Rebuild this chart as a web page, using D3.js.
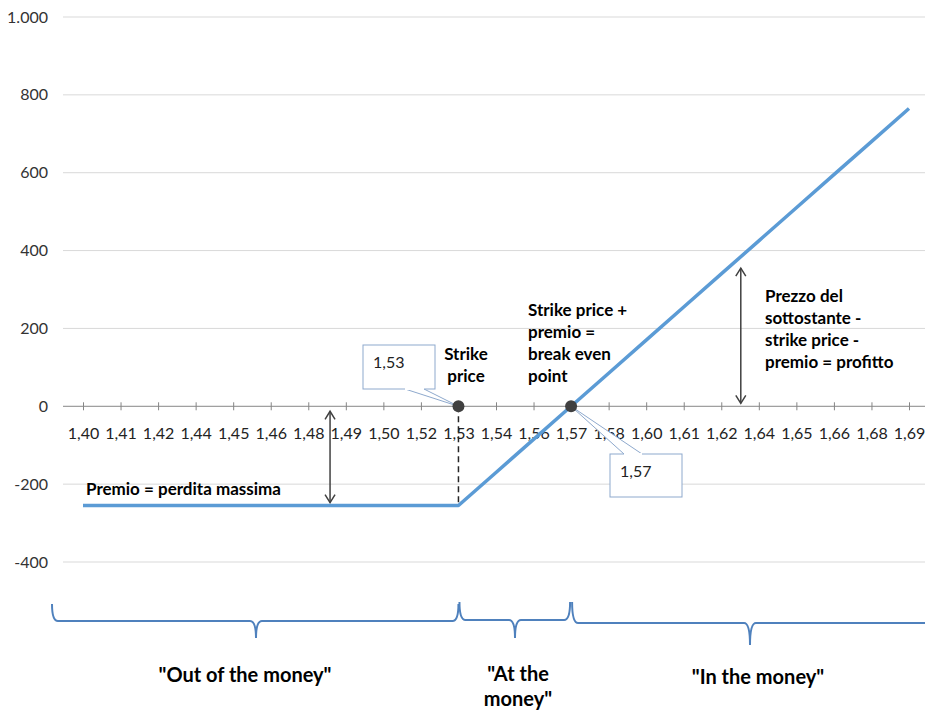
<!DOCTYPE html>
<html>
<head>
<meta charset="utf-8">
<script src="https://cdn.jsdelivr.net/npm/d3@7"></script>
<style>
  body { margin: 0; background: #fff; }
  svg text { font-family: Lato, "Liberation Sans", sans-serif; }
</style>
</head>
<body>
<div id="chart"></div>
<script>
// === Chart data ===
const categories = ["1,40", "1,41", "1,42", "1,44", "1,45", "1,46", "1,48", "1,49", "1,50", "1,52",
    "1,53", "1,54", "1,56", "1,57", "1,58", "1,60", "1,61", "1,62", "1,64", "1,65", "1,66", "1,68", "1,69"];
const profit = [-255, -255, -255, -255, -255, -255, -255, -255, -255, -255,
    -255, -170, -85, 0, 85, 170, 255, 340, 425, 510, 595, 680, 765];
const yTicks = [-400, -200, 0, 200, 400, 600, 800, 1000];
const zoneLabels = [["\"Out of the money\""], ["\"At the", "money\""], ["\"In the money\""]];

const COLOR_LINE = "#5b9bd5";   // payoff line
const COLOR_BRACE = "#4f81bd";  // bottom braces
const COLOR_DARK = "#404040";   // arrows and points

const W = 925, H = 712;
const svg = d3.select("#chart").append("svg")
    .attr("width", W)
    .attr("height", H);

// Scales: categories sit on the tick marks
const x = d3.scalePoint()
    .domain(categories)
    .range([83, 909]);

const y = d3.scaleLinear()
    .domain([-400, 1000])
    .range([562, 17]);

// Italian style: dot as thousands separator, plain hyphen for minus
const fmt = v => d3.format(",")(v).replace(/,/g, ".").replace("\u2212", "-");

// Horizontal gridlines
svg.append("g")
    .selectAll("line")
    .data(yTicks.filter(v => v !== 0))
    .join("line")
    .attr("x1", 63).attr("x2", W)
    .attr("y1", d => y(d)).attr("y2", d => y(d))
    .attr("stroke", "#d9d9d9")
    .attr("stroke-width", 1);

// Y axis labels (no axis line)
const yAxis = svg.append("g")
    .attr("transform", "translate(48,0)")
    .call(d3.axisLeft(y).tickValues(yTicks).tickSize(0).tickPadding(0).tickFormat(fmt));
yAxis.select(".domain").remove();
yAxis.selectAll("text")
    .attr("font-size", 16)
    .attr("font-family", "Lato, sans-serif")
    .attr("fill", "#333");

// X axis through zero with cross ticks
const xAxis = svg.append("g")
    .attr("transform", `translate(0,${y(0)})`)
    .call(d3.axisBottom(x).tickSizeOuter(0).tickSizeInner(4).tickPadding(0));
xAxis.select(".domain")
    .attr("d", `M63,0H${W}`)
    .attr("stroke", "#868686");
xAxis.selectAll(".tick line")
    .attr("y1", -4).attr("y2", 4)
    .attr("stroke", "#868686");
xAxis.selectAll(".tick text")
    .attr("y", 33)
    .attr("dy", 0)
    .attr("font-size", 16)
    .attr("font-family", "Lato, sans-serif")
    .attr("fill", "#222");

// Dashed drop line at the strike price
svg.append("line")
    .attr("x1", x("1,53")).attr("x2", x("1,53"))
    .attr("y1", y(0)).attr("y2", y(-255))
    .attr("stroke", "#262626")
    .attr("stroke-width", 1.5)
    .attr("stroke-dasharray", "6,4");

// Payoff line
const line = d3.line()
    .x((d, i) => x(categories[i]))
    .y(d => y(d));

svg.append("path")
    .datum(profit)
    .attr("fill", "none")
    .attr("stroke", COLOR_LINE)
    .attr("stroke-width", 3.5)
    .attr("stroke-linejoin", "round")
    .attr("d", line);

// Double-headed arrows
function doubleArrow(px, y1, y2) {
    const g = svg.append("g")
        .attr("stroke", COLOR_DARK)
        .attr("stroke-width", 1.5)
        .attr("fill", "none");
    g.append("line").attr("x1", px).attr("x2", px).attr("y1", y1).attr("y2", y2);
    g.append("path").attr("d", `M${px - 5},${y1 + 8}L${px},${y1}L${px + 5},${y1 + 8}`);
    g.append("path").attr("d", `M${px - 5},${y2 - 8}L${px},${y2}L${px + 5},${y2 - 8}`);
}
const step = x.step();
doubleArrow(x("1,48") + step * 0.58, y(0) + 5, y(-255) - 3);
doubleArrow(x("1,62") + step * 0.52, y(355), y(0) - 3);

// Callout boxes
function callout(bx, by, bw, bh, p1, p2, tx, ty, label) {
    const g = svg.append("g");
    g.append("path")
        .attr("d", `M${p1[0]},${p1[1]}L${tx},${ty}L${p2[0]},${p2[1]}`)
        .attr("fill", "#fff")
        .attr("stroke", "#8ea9cd")
        .attr("stroke-width", 1);
    g.append("rect")
        .attr("x", bx).attr("y", by).attr("width", bw).attr("height", bh)
        .attr("fill", "#fff")
        .attr("stroke", "#8ea9cd")
        .attr("stroke-width", 1);
    // cover the box edge where the pointer meets it
    g.append("line")
        .attr("x1", p1[0]).attr("x2", p2[0])
        .attr("y1", p1[1]).attr("y2", p2[1])
        .attr("stroke", "#fff").attr("stroke-width", 2);
    g.append("text")
        .attr("x", bx + 10).attr("y", by + 23)
        .attr("font-size", 16)
        .attr("fill", "#222")
        .text(label);
}
const sx = x("1,53"), bx = x("1,57");
callout(363, 345, 72, 44, [405, 389], [424, 389], sx, y(0), "1,53");
callout(610, 454, 72, 43, [624, 454], [642, 454], bx, y(0), "1,57");

// Points on the axis
svg.append("g")
    .selectAll("circle")
    .data(["1,53", "1,57"])
    .join("circle")
    .attr("cx", d => x(d))
    .attr("cy", y(0))
    .attr("r", 6)
    .attr("fill", COLOR_DARK);

// Bold annotation texts
function multiText(px, py, lines, anchor) {
    const t = svg.append("text")
        .attr("x", px).attr("y", py)
        .attr("font-size", 17)
        .attr("font-weight", "bold")
        .attr("fill", "#000")
        .attr("text-anchor", anchor || "start");
    lines.forEach((l, i) => t.append("tspan").attr("x", px).attr("dy", i ? 22 : 0).text(l));
}
multiText(466, 360, ["Strike", "price"], "middle");
multiText(528, 316, ["Strike price +", "premio =", "break even", "point"]);
multiText(765, 302, ["Prezzo del", "sottostante -", "strike price -", "premio = profitto"]);
multiText(86, 495, ["Premio = perdita massima"]);

// Bottom braces
function brace(x1, x2, ly, tipX, tipY, topY) {
    const c = 6;
    const d = `M${x1},${topY}Q${x1},${ly} ${x1 + c},${ly}` +
        `L${tipX - c},${ly}Q${tipX},${ly} ${tipX},${tipY}` +
        `Q${tipX},${ly} ${tipX + c},${ly}` +
        `L${x2 - c},${ly}` + (x2 < W ? `Q${x2},${ly} ${x2},${topY}` : `L${x2},${ly}`);
    svg.append("path")
        .attr("d", d)
        .attr("fill", "none")
        .attr("stroke", COLOR_BRACE)
        .attr("stroke-width", 2);
}
brace(52, sx, 621, 256, 638, 604);
brace(sx + 1, bx - 1, 620, 515, 638, 602);
brace(bx + 1, W + 2, 623, 750, 645, 602);

// Zone labels under the braces
const zoneX = [245, 518, 758];
const zoneY = [682, 681, 684];
zoneLabels.forEach((lines, i) => {
    const t = svg.append("text")
        .attr("x", zoneX[i]).attr("y", zoneY[i])
        .attr("text-anchor", "middle")
        .attr("font-family", "'Liberation Sans Narrow', 'DejaVu Sans Condensed', sans-serif")
        .attr("font-size", 20)
        .attr("font-weight", "bold")
        .attr("fill", "#000");
    lines.forEach((l, j) => t.append("tspan").attr("x", zoneX[i]).attr("dy", j ? 25 : 0).text(l));
});
</script>
</body>
</html>
